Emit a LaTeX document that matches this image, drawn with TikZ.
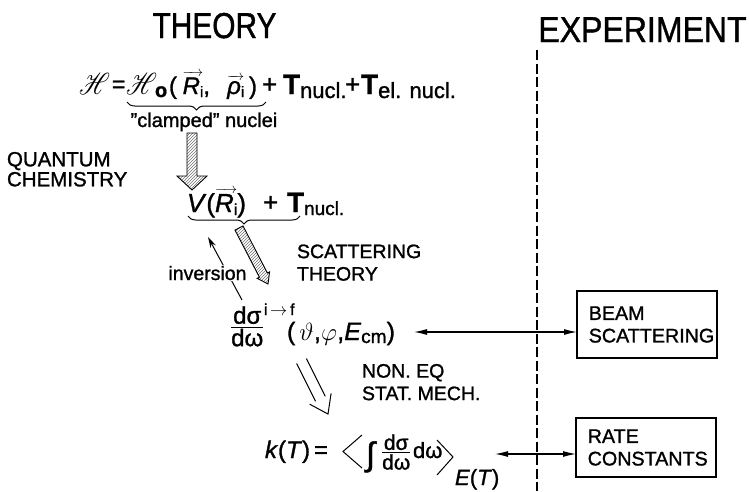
\documentclass[tikz,border=0pt]{standalone}
\usepackage{amsmath}
\usepackage{mathrsfs}
\usepackage{fontspec}
\setmainfont{Liberation Sans}[FakeBold=1.2]
\usetikzlibrary{arrows.meta,patterns,decorations.pathreplacing,calc}
\newcommand\lsub[3]{\raisebox{-#2}{\fontsize{#1}{#1}\selectfont #3}}
\makeatletter
\newcommand\arrover[1]{\vbox{\offinterlineskip\ialign{##\cr{\fontsize{15}{15}\selectfont\rightarrowfill}\cr\noalign{\kern0.5pt}\hbox{#1}\cr}}}
\makeatother
\newcommand\scrH{\scalebox{0.98}[1.22]{$\mathscr{H}$}}
\newcommand\ffrac[2]{$\genfrac{}{}{1pt}{}{\hbox{#1}}{\hbox{#2}}$}
\begin{document}
\begin{tikzpicture}[x=1pt,y=-1pt,
  every node/.style={inner sep=0pt,outer sep=0pt},
  title/.style={font=\fontsize{36}{40}\selectfont,anchor=base},
  lbl/.style={font=\fontsize{19.5}{22.5}\selectfont,align=left,anchor=north west},
  fm/.style={anchor=base west},
  expbox/.style={draw,line width=1.1pt,minimum width=140pt,align=left,font=\fontsize{19.7}{22.5}\selectfont},
  link/.style={line width=1.1pt,{Latex[length=13pt,width=6pt]}-{Latex[length=13pt,width=6pt]}},
  hatchbar/.style={draw,line width=0.9pt,pattern=north east lines,pattern color=black!55},
  ubrace/.style={decorate,decoration={brace,amplitude=8pt},line width=1pt},
  thin/.style={line width=1pt}]
\useasboundingbox (0,0) rectangle (750,491);

% titles and divider
\node[title] (th) at (214.5,38) {\scalebox{0.83}[1]{THEORY}};
\node[title] (ex) at (642.5,42) {\scalebox{0.89}[1]{EXPERIMENT}};
\draw[line width=1.2pt,dash pattern=on 10pt off 3.5pt] (537,50) -- (537,491);

% Hamiltonian
\node[fm,font=\fontsize{25}{25}\selectfont] (h) at (79,94) {\scrH};
\node[fm,font=\fontsize{23}{23}\selectfont] (heq) at (112,92) {=};
\node[fm,font=\fontsize{25}{25}\selectfont] (h0) at (126,94) {\scrH};
\node[fm,font=\fontsize{20}{20}\selectfont] (h0s) at (155,97) {\bfseries o};
\node[fm,font=\fontsize{24}{24}\selectfont] (args) at (169,94)
 {\makebox[88pt][s]{(\hskip 2pt plus 1fil\arrover{\textit{R}\lsub{15}{3pt}{i}},\hskip 6pt plus 3fil\arrover{\textit{ρ}\lsub{15}{3pt}{i}}\hskip 1pt plus 1fil)}};
\node[fm,font=\fontsize{26}{26}\selectfont] (p1) at (262,93) {+};
\node[fm,font=\fontsize{28}{28}\selectfont] (tn) at (283,94) {\bfseries T\lsub{22}{4pt}{\mdseries nucl.}};
\node[fm,font=\fontsize{26}{26}\selectfont] (p2) at (345,93) {+};
\node[fm,font=\fontsize{28}{28}\selectfont] (ten) at (361,94) {\bfseries T\lsub{22}{4pt}{\mdseries el. nucl.}};
\draw[ubrace] (266,102) -- (127,102);
\node[anchor=base,font=\fontsize{20}{24}\selectfont] (clamp) at (204,127) {"clamped" nuclei};

% labels
\node[lbl,font=\fontsize{20.5}{20}\selectfont] (qc) at (7,152) {QUANTUM\\CHEMISTRY};
\node[lbl] (st) at (297,244.5) {SCATTERING\\THEORY};
\node[lbl] (ne) at (362,364) {NON. EQ\\STAT. MECH.};

% hatched arrow down
\draw[hatchbar] (187,133) -- (197,133) -- (197,176) -- (207,176) -- (192,190) -- (177,176) -- (187,176) -- cycle;

% potential
\node[fm,font=\fontsize{26}{26}\selectfont] (pot) at (187,212)
 {\textit{V}(\arrover{\textit{R}\lsub{16}{3pt}{i}})};
\node[fm,font=\fontsize{26}{26}\selectfont] (pp) at (263,211) {+};
\node[fm,font=\fontsize{28}{28}\selectfont] (ptn) at (287,212) {\bfseries T\lsub{19}{3pt}{\mdseries nucl.}};
\draw[ubrace] (300,216) -- (188,216);

% scattering theory bar
\draw[hatchbar] (235,230.1) -- (243,225.9) -- (267.4,273) -- (269.6,271.9) -- (268,284) -- (257.2,278.3) -- (259.4,277.2) -- cycle;

% inversion arrow
\coordinate (invS) at (242,300);
\coordinate (invE) at (208,237);
\draw[thin,-{Stealth[length=11pt,width=6pt]}] (invS) -- (invE);
\node[fill=white,inner sep=1pt,anchor=base,font=\fontsize{19.5}{22}\selectfont] (inv) at (207.5,280) {inversion};

% cross section
\node[fm,font=\fontsize{24}{24}\selectfont] (sigf) at (230,333.5) {\ffrac{dσ}{dω}};
\node[fm,font=\fontsize{16}{16}\selectfont] (sigsup) at (264,315) {i\,$\rightarrow$\,f};
\node[fm,font=\fontsize{25}{25}\selectfont] (sigargs) at (287,340)
 {\makebox[108pt][s]{(\,$\vartheta$\hfil,\hfil$\varphi$\hfil,\hfil\textit{E}\lsub{19}{3pt}{cm}\hfil)}};

% non eq open arrow
\draw[thin] (296.6,363.5) -- (315.5,401.3);
\draw[thin] (306.4,358.5) -- (325.3,396.3);
\draw[thin] (309.7,404.2) -- (328,414) -- (331.1,393.4);

% rate constant
\node[fm,font=\fontsize{24}{24}\selectfont] (kT) at (265,458) {\makebox[63pt][s]{\textit{k}(\textit{T})\hfil=}};
\draw[thin] (362,435) -- (343,451.5) -- (362,468);
\node[fm,font=\fontsize{33}{33}\selectfont] (kint) at (366,465.5) {∫};
\node[fm,font=\fontsize{21}{21}\selectfont] (kfrac) at (381,458) {\ffrac{dσ}{dω}};
\node[fm,font=\fontsize{22}{22}\selectfont] (kdw) at (413,458) {dω};
\draw[thin] (437,440) -- (453,457) -- (437,475);
\node[fm,font=\fontsize{22}{22}\selectfont] (kE) at (455,485) {\textit{E}(\textit{T})};

% experiment boxes
\node[expbox,minimum height=67pt] (beam) at (647,324.5) {\hspace*{9pt}BEAM\\\hspace*{9pt}SCATTERING};
\node[expbox,minimum height=59pt] (rate) at (646,447.5) {\hspace*{3.5pt}RATE\\\hspace*{3.5pt}CONSTANTS};

\coordinate (sigR) at (414,332);
\coordinate (kR) at (495,454);
\draw[link] (sigR) -- (beam.west |- sigR);
\draw[link] (kR) -- (rate.west |- kR);
\end{tikzpicture}
\end{document}
